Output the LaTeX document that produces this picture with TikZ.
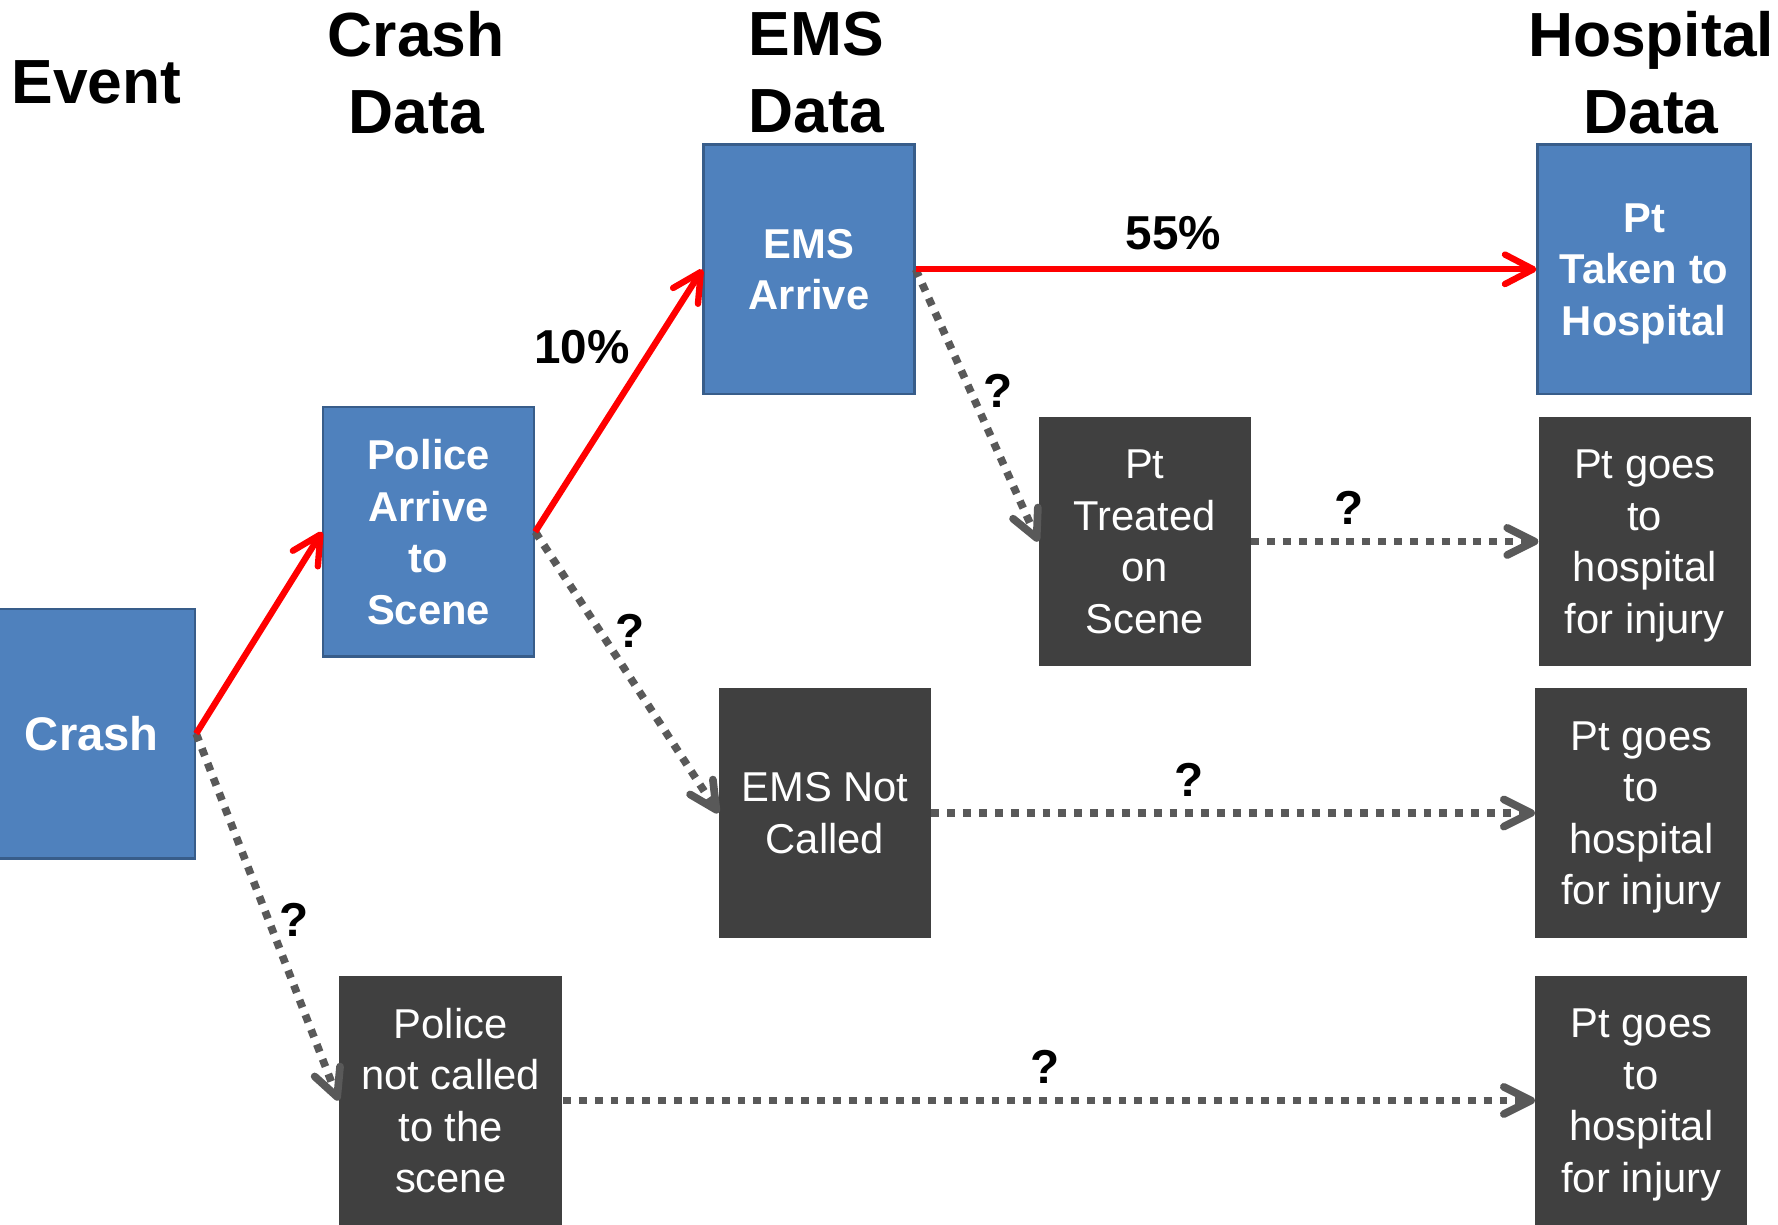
\documentclass[tikz,border=0pt]{standalone}
\usepackage{fontspec}
\setmainfont{Liberation Sans}
\usetikzlibrary{arrows.meta}
\definecolor{boxblue}{HTML}{4F81BD}
\definecolor{boxedge}{HTML}{385D8A}
\definecolor{boxdark}{HTML}{404040}
\definecolor{dotgray}{HTML}{595959}
\begin{document}
\begin{tikzpicture}[x=0.5pt,y=-0.5pt,
  bluebox/.style={rectangle, fill=boxblue, draw=boxedge, line width=1pt, text=white,
    font=\bfseries\fontsize{18.4}{22.7}\selectfont, align=center, inner sep=0pt,
    minimum width=93pt, minimum height=110pt, text depth=-4.2pt},
  darkbox/.style={rectangle, fill=boxdark, text=white,
    font=\fontsize{18.4}{22.7}\selectfont, align=center, inner sep=0pt,
    minimum width=93.5pt, minimum height=110pt, text depth=-4.2pt},
  header/.style={font=\bfseries\fontsize{27.5}{34}\selectfont, align=center, inner sep=0pt},
  redarrow/.style={draw=red, line width=2.8pt, -{Straight Barb[length=12.5pt,width=13pt,round]}},
  grayarrow/.style={draw=dotgray, line width=3.4pt, dash pattern=on 3.5pt off 3.5pt,
    -{Straight Barb[length=12pt,width=12pt,round]}},
  qlabel/.style={font=\bfseries\fontsize{21}{25}\selectfont, inner sep=0pt},
]
\useasboundingbox (0,0) rectangle (1568,1080);

% headers
\node[header] (hEvent) at (85,73) {Event};
\node[header] (hCrash) at (367,64) {Crash\\Data};
\node[header] (hEMS) at (720,64) {EMS\\Data};
\node[header] (hHosp) at (1456,64) {Hospital\\Data};

% boxes
\node[bluebox, minimum width=91pt, text depth=-1pt, font=\bfseries\fontsize{20.8}{25}\selectfont] (crash) at (81,647) {Crash};
\node[bluebox] (police) at (378,469) {Police\\Arrive\\to\\Scene};
\node[bluebox] (ems) at (713.5,237.5) {EMS\\Arrive};
\node[bluebox, minimum width=94pt] (taken) at (1450,237.5) {Pt\\Taken to\\Hospital};
\node[darkbox] (treated) at (1009.5,477.5) {Pt\\Treated\\on\\Scene};
\node[darkbox] (goesA) at (1450.5,477.5) {Pt goes\\to\\hospital\\for injury};
\node[darkbox] (emsnot) at (727.5,717) {EMS Not\\Called};
\node[darkbox] (goesB) at (1447.5,717) {Pt goes\\to\\hospital\\for injury};
\node[darkbox, minimum width=98.5pt] (polnot) at (397.5,970.5) {Police\\not called\\to the\\scene};
\node[darkbox] (goesC) at (1447.5,970.5) {Pt goes\\to\\hospital\\for injury};

% connectors
\draw[grayarrow] (ems.east) -- (treated.west);
\draw[grayarrow] (treated.east) -- (goesA.west);
\draw[grayarrow] (police.east) -- (emsnot.west);
\draw[grayarrow] (emsnot.east) -- (goesB.west);
\draw[grayarrow] (crash.east) -- (polnot.west);
\draw[grayarrow] (polnot.east) -- (goesC.west);
\draw[redarrow] (crash.east) -- (police.west);
\draw[redarrow] (police.east) -- (ems.west);
\draw[redarrow] (ems.east) -- (taken.west);

% labels
\node[qlabel] (p10) at (513,306) {10\%};
\node[qlabel] (p55) at (1035,206) {55\%};
\node[qlabel] (q1) at (880,345) {?};
\node[qlabel] (q2) at (1190,448) {?};
\node[qlabel] (q3) at (556,556) {?};
\node[qlabel] (q4) at (1049,688) {?};
\node[qlabel] (q5) at (259,811) {?};
\node[qlabel] (q6) at (922,941) {?};
\end{tikzpicture}
\end{document}
